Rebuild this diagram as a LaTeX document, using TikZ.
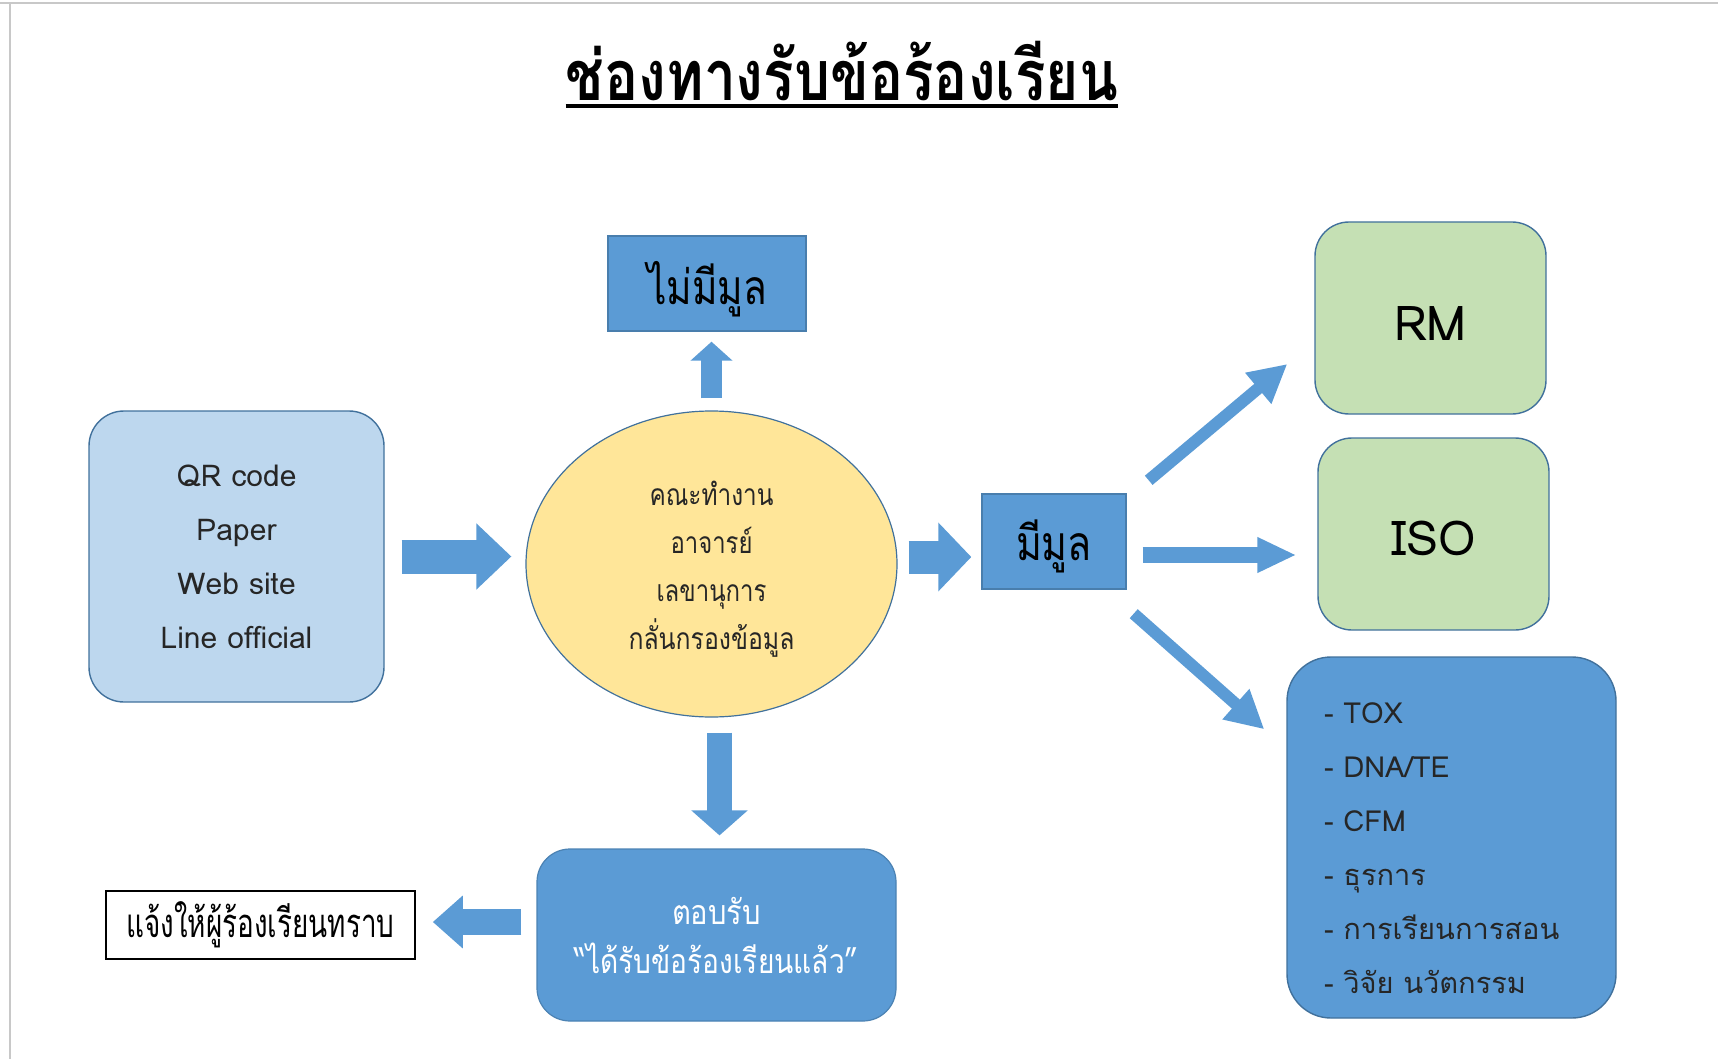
\documentclass[tikz,border=0pt]{standalone}
\usepackage{fontspec}
\usepackage{graphicx}
\setmainfont[Script=Thai]{Loma}
\usetikzlibrary{arrows.meta,shapes.geometric}
\newcommand\fitw[2]{\resizebox{#1}{\height}{#2}}
\newcommand\lowerby[2]{\raisebox{-#1}[\height][\depth]{#2}}
\definecolor{lblue}{HTML}{BDD7EE}
\definecolor{mblue}{HTML}{5B9BD5}
\definecolor{bord}{HTML}{41719C}
\definecolor{lgreen}{HTML}{C5E0B4}
\definecolor{lyellow}{HTML}{FFE699}
\definecolor{txt}{HTML}{262626}
\definecolor{pageline}{HTML}{C8C8C8}
\tikzset{
  srcbox/.style={draw=bord, fill=lblue, line width=0.7pt, rounded corners=17.5pt,
    minimum width=147.5pt, minimum height=145.5pt, align=center, text=txt,
    font=\fontsize{15}{27}\selectfont},
  ellbox/.style={ellipse, draw=bord, fill=lyellow, line width=0.6pt, inner sep=0pt,
    minimum width=185.5pt, minimum height=153pt, align=center, text=txt,
    font=\fontsize{15}{24}\selectfont},
  bluebox/.style={draw=bord!70!mblue, fill=mblue, line width=0.7pt, inner sep=0pt,
    text=black, font=\fontsize{24}{30}\selectfont},
  greenbox/.style={draw=bord, fill=lgreen, line width=0.7pt, rounded corners=17pt,
    minimum width=115.5pt, minimum height=96pt, text=black,
    font=\fontsize{24}{28}\selectfont},
  deptbox/.style={draw=bord, fill=mblue, line width=0.7pt, rounded corners=22pt,
    minimum width=164.5pt, minimum height=180.5pt},
  depttext/.style={inner sep=0pt, text width=127.5pt, align=left,
    text=txt, font=\fontsize{14.5}{27}\selectfont},
  ackbox/.style={draw=bord!60!mblue, fill=mblue, line width=0.6pt, rounded corners=16.5pt,
    minimum width=179.5pt, minimum height=86pt, align=center, text=white,
    font=\fontsize{17}{24.5}\selectfont},
  notebox/.style={draw=black, fill=white, line width=0.8pt, inner sep=0pt,
    minimum width=154.5pt, minimum height=34pt, font=\fontsize{20}{24}\selectfont},
  blockarrow/.style n args={3}{draw=mblue, line width=#1,
    -{Triangle[width=#2, length=#3]}},
}
\begin{document}
\begin{tikzpicture}[x=0.5pt, y=-0.5pt]
\useasboundingbox (0,0) rectangle (1718,1059);
% page border lines
\draw[pageline, line width=1pt] (0,3) -- (1718,3);
\draw[pageline, line width=1pt] (10,3) -- (10,1059);

% title
\node[inner sep=0pt, anchor=base] (title) at (842,101)
  {\fitw{276pt}{\bfseries\fontsize{35}{40}\selectfont ช่องทางรับข้อร้องเรียน}};
\draw[line width=1.8pt] ([yshift=-2.5pt]title.base west) -- ([yshift=-2.5pt]title.base east);

% nodes
\node[srcbox] (src) at (236.5,556.5) {QR code\\Paper\\Web site\\Line official};
\node[ellbox] (ell) at (711.5,564)
  {\lowerby{2.75pt}{\fitw{62pt}{คณะทำงาน}}\\\lowerby{2.75pt}{\fitw{41pt}{อาจารย์}}\\
   \lowerby{2.75pt}{\fitw{55pt}{เลขานุการ}}\\\lowerby{2.75pt}{\fitw{83pt}{กลั่นกรองข้อมูล}}};
\node[bluebox, minimum width=99pt, minimum height=47.5pt] (nomul) at (707,283.5)
  {\lowerby{3pt}{\fitw{60pt}{ไม่มีมูล}}};
\node[bluebox, minimum width=72pt, minimum height=47.5pt] (mul) at (1054,541.5)
  {\lowerby{2.5pt}{\fitw{38pt}{มีมูล}}};
\node[greenbox] (rm) at (1430.5,318) {\lowerby{3pt}{RM}};
\node[greenbox] (iso) at (1433.5,534) {\lowerby{2pt}{ISO}};
\node[deptbox] (dept) at (1451.5,837.5) {};
\node[depttext] (depttxt) at ([shift={(0pt,-5.5pt)}]dept.center)
  {- TOX\\- DNA/TE\\- CFM\\- ธุรการ\\- การเรียนการสอน\\- วิจัย นวัตกรรม};
\node[ackbox] (ack) at (716.5,935)
  {\fitw{44.5pt}{ตอบรับ}\\\fitw{142pt}{“ได้รับข้อร้องเรียนแล้ว”}};
\node[notebox] (note) at (260.5,925) {\fitw{134pt}{แจ้งให้ผู้ร้องเรียนทราบ}};

% block arrows
\draw[blockarrow={17pt}{32pt}{17.5pt}, shorten <=8.5pt, shorten >=7pt]
  (src.east) -- (src.east -| ell.west);
\draw[blockarrow={10.5pt}{20.5pt}{9.5pt}, shorten <=6pt, shorten >=5pt]
  (ell.north) -- (ell.north |- nomul.south);
\draw[blockarrow={16.5pt}{33.5pt}{16.5pt}, shorten <=5.5pt, shorten >=5pt]
  ([yshift=3.5pt]ell.east) -- ([yshift=3.5pt]ell.east -| mul.west);
\draw[blockarrow={6pt}{19pt}{19pt}]
  ([shift={(11pt,6.5pt)}]mul.north east) -- ([shift={(-13.5pt,-23pt)}]rm.west);
\draw[blockarrow={8pt}{16.5pt}{19.5pt}]
  ([shift={(8pt,-6.75pt)}]mul.east) -- ([shift={(-10.5pt,-10.5pt)}]iso.west);
\draw[blockarrow={6pt}{19pt}{19pt}]
  ([shift={(3.5pt,-12pt)}]mul.south east) -- ([shift={(-11pt,-36.5pt)}]dept.north west);
\draw[blockarrow={12.5pt}{27.5pt}{12.5pt}, shorten <=7.5pt, shorten >=6.5pt]
  ([xshift=4pt]ell.south) -- ([xshift=4pt]ell.south |- ack.north);
\draw[blockarrow={13pt}{25.5pt}{15pt}, shorten <=7.5pt, shorten >=8.5pt]
  ([yshift=6.5pt]ack.west) -- ([yshift=6.5pt]ack.west -| note.east);
\end{tikzpicture}
\end{document}
